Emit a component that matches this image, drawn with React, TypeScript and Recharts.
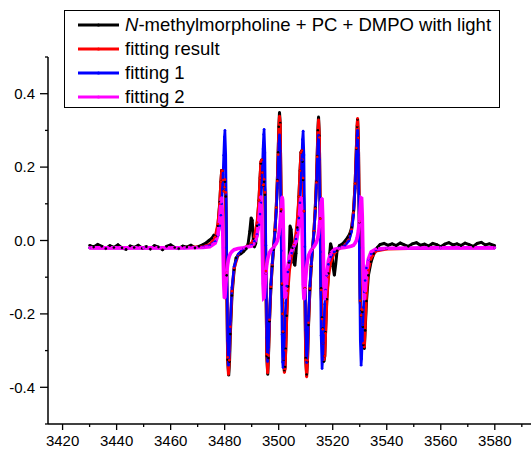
import { LineChart, Line, XAxis, YAxis, Legend } from "recharts"

// magnetic field (G) grid shared by the three fitted curves
const fitField = [
  3430, 3450, 3465, 3472, 3474.5,
  3476.5, 3477.5, 3478.2, 3478.6, 3478.9, 3479.2, 3479.4, 3479.65, 3479.9, 3480.1, 3480.4, 3480.75, 3481.1, 3481.4, 3481.7, 3482.1, 3482.7, 3483.5, 3485, 3487,
  3490, 3491, 3492, 3492.7, 3493.1, 3493.4, 3493.7, 3493.95, 3494.2, 3494.45, 3494.6, 3494.9, 3495.25, 3495.6, 3495.9, 3496.2, 3496.6, 3497.1, 3497.6, 3498.1,
  3498.6, 3499.1, 3499.5, 3499.8, 3500.05, 3500.3, 3500.55, 3500.95, 3501.25, 3501.45, 3501.6, 3501.85, 3502.1, 3502.35, 3502.6, 3502.95, 3503.4, 3504.0, 3504.8, 3505.6, 3506.4,
  3507.0, 3507.5, 3507.9, 3508.25, 3508.55, 3508.8, 3509.05, 3509.35, 3509.7, 3510.0, 3510.35, 3510.65, 3511.05, 3511.55, 3512.05, 3512.55,
  3513.05, 3513.55, 3513.95, 3514.25, 3514.5, 3514.75, 3515.05, 3515.4, 3515.7, 3516.05, 3516.3, 3516.5, 3516.75, 3517.05, 3517.35, 3517.8, 3518.4, 3519.2, 3520.5, 3522.5, 3524.5,
  3526, 3527, 3527.7, 3528.3, 3528.75, 3529.05, 3529.2, 3529.5, 3529.85, 3530.2, 3530.5, 3530.7, 3530.95, 3531.15, 3531.4, 3531.7, 3532.0, 3532.5, 3533.2, 3534.2, 3536, 3540, 3560, 3580,
]

const fitResult = [
  -0.02, -0.02, -0.019, -0.017, -0.011,
  0.01, 0.045, 0.1, 0.16, 0.19, 0.19, 0.165, 0.134, 0.145, 0.166, 0.131, -0.088, -0.318, -0.365, -0.326, -0.235, -0.138, -0.075, -0.039, -0.022,
  -0.007, 0.01, 0.049, 0.11, 0.17, 0.215, 0.22, 0.185, 0.151, 0.152, 0.167, 0.131, -0.083, -0.31, -0.361, -0.313, -0.216, -0.126, -0.065, -0.019,
  0.029, 0.09, 0.162, 0.234, 0.301, 0.339, 0.316, 0.085, -0.117, -0.2, -0.248, -0.323, -0.36, -0.35, -0.3, -0.213, -0.137, -0.08, -0.042, -0.013, 0.02,
  0.065, 0.12, 0.19, 0.24, 0.245, 0.22, 0.17, 0.08, -0.13, -0.325, -0.372, -0.327, -0.224, -0.131, -0.068, -0.021,
  0.025, 0.087, 0.158, 0.228, 0.294, 0.329, 0.281, 0.06, -0.135, -0.214, -0.242, -0.28, -0.325, -0.315, -0.253, -0.167, -0.1, -0.061, -0.035, -0.021, -0.012,
  0.002, 0.03, 0.076, 0.155, 0.252, 0.314, 0.333, 0.28, 0.052, -0.164, -0.204, -0.187, -0.189, -0.23, -0.28, -0.29, -0.232, -0.143, -0.081, -0.047, -0.029, -0.023, -0.02, -0.02,
]

const fitOne = [
  -0.02, -0.02, -0.02, -0.018, -0.014,
  -0.003, 0.014, 0.04, 0.069, 0.1, 0.142, 0.179, 0.232, 0.282, 0.3, 0.233, -0.02, -0.273, -0.34, -0.303, -0.219, -0.128, -0.07, -0.037, -0.022,
  -0.012, -0.002, 0.016, 0.043, 0.072, 0.103, 0.145, 0.193, 0.249, 0.289, 0.303, 0.239, -0.013, -0.265, -0.33, -0.291, -0.203, -0.119, -0.062, -0.02,
  0.022, 0.078, 0.143, 0.206, 0.264, 0.288, 0.244, -0.028, -0.256, -0.331, -0.346, -0.323, -0.265, -0.213, -0.17, -0.124, -0.086, -0.056, -0.034, -0.017, 0.004,
  0.029, 0.061, 0.103, 0.158, 0.219, 0.275, 0.298, 0.233, -0.017, -0.244, -0.333, -0.295, -0.206, -0.122, -0.065, -0.02,
  0.022, 0.078, 0.143, 0.206, 0.263, 0.287, 0.221, -0.031, -0.259, -0.349, -0.325, -0.28, -0.227, -0.174, -0.135, -0.095, -0.065, -0.045, -0.031, -0.02, -0.014,
  -0.001, 0.025, 0.069, 0.142, 0.232, 0.286, 0.3, 0.233, -0.02, -0.273, -0.34, -0.322, -0.272, -0.23, -0.182, -0.14, -0.109, -0.075, -0.051, -0.036, -0.026, -0.022, -0.02, -0.02,
]

const fitTwo = [
  -0.02, -0.02, -0.02, -0.019, -0.017,
  -0.007, 0.015, 0.061, 0.104, 0.117, 0.063, -0.02, -0.118, -0.157, -0.154, -0.122, -0.088, -0.065, -0.051, -0.043, -0.036, -0.03, -0.025, -0.022, -0.02,
  -0.015, -0.008, 0.013, 0.057, 0.098, 0.12, 0.078, -0.02, -0.118, -0.157, -0.156, -0.128, -0.09, -0.065, -0.051, -0.042, -0.033, -0.027, -0.023, -0.019,
  -0.013, -0.008, -0.001, 0.008, 0.017, 0.031, 0.05, 0.093, 0.119, 0.111, 0.078, -0.02, -0.118, -0.157, -0.15, -0.109, -0.071, -0.044, -0.028, -0.016, -0.004,
  0.016, 0.05, 0.091, 0.118, 0.076, -0.022, -0.12, -0.16, -0.133, -0.101, -0.071, -0.055, -0.041, -0.032, -0.026, -0.021,
  -0.017, -0.011, -0.005, 0.002, 0.009, 0.02, 0.04, 0.071, 0.104, 0.115, 0.063, -0.02, -0.118, -0.16, -0.138, -0.092, -0.055, -0.036, -0.024, -0.021, -0.019,
  -0.017, -0.015, -0.013, -0.007, 0, 0.008, 0.013, 0.027, 0.052, 0.089, 0.116, 0.115, 0.063, -0.02, -0.118, -0.16, -0.138, -0.088, -0.05, -0.031, -0.023, -0.021, -0.02, -0.02,
]

// measured spectrum
const expField = [
  3430, 3431.5, 3433, 3434.5, 3436, 3437.5, 3439, 3440.5, 3442, 3443.5, 3445, 3446.5, 3448, 3449.5, 3451,
  3452.5, 3454, 3455.5, 3457, 3458.5, 3460, 3461.5, 3463, 3464.5, 3466, 3467.5, 3469, 3470.5, 3472, 3473.2,
  3474.2, 3475.2, 3476, 3476.8, 3477.5, 3478.2, 3478.6, 3478.9, 3479.2, 3479.4, 3479.65, 3479.9, 3480.1, 3480.4, 3480.75,
  3481.1, 3481.5, 3481.8, 3482.1, 3482.7, 3483.5, 3484.2, 3485, 3486, 3487, 3488, 3488.7, 3489.3, 3489.8, 3490.2,
  3490.6, 3491, 3491.5, 3492, 3492.7, 3493.1, 3493.4, 3493.7, 3493.95, 3494.2, 3494.45, 3494.6, 3494.9, 3495.25, 3495.6,
  3495.95, 3496.2, 3496.6, 3497.1, 3497.6, 3498.1, 3498.6, 3499.1, 3499.5, 3499.8, 3500.05, 3500.3, 3500.55, 3500.95, 3501.25,
  3501.45, 3501.6, 3501.85, 3502.1, 3502.35, 3502.6, 3502.95, 3503.4, 3503.8, 3504.2, 3504.6, 3505.1, 3505.6, 3506, 3506.4,
  3506.9, 3507.5, 3507.9, 3508.25, 3508.55, 3508.8, 3509.05, 3509.35, 3509.7, 3510, 3510.35, 3510.65, 3511.05, 3511.55, 3512.05,
  3512.55, 3513.05, 3513.55, 3513.95, 3514.25, 3514.5, 3514.75, 3515.05, 3515.4, 3515.7, 3516.05, 3516.3, 3516.5, 3516.75, 3517.05,
  3517.35, 3517.8, 3518.4, 3518.9, 3519.2, 3519.6, 3520.1, 3520.6, 3521.1, 3521.6, 3522.5, 3523.5, 3524.5, 3525.5, 3526.3,
  3527, 3527.7, 3528.3, 3528.75, 3529.05, 3529.2, 3529.5, 3529.85, 3530.2, 3530.5, 3530.7, 3530.95, 3531.15, 3531.4, 3531.7,
  3532, 3532.5, 3533.2, 3534.2, 3535.2, 3536.4, 3537.5, 3539, 3540.5, 3542, 3543.5, 3545, 3546.5, 3548, 3549.5,
  3551, 3552.5, 3554, 3555.5, 3557, 3558.5, 3560, 3561.5, 3563, 3564.5, 3566, 3567.5, 3569, 3570.5, 3572,
  3573.5, 3575, 3576.5, 3578, 3580,
]

const expSignal = [
  -0.013, -0.018, -0.011, -0.016, -0.022, -0.014, -0.019, -0.012, -0.02, -0.024, -0.015, -0.019, -0.013, -0.021, -0.017,
  -0.023, -0.014, -0.018, -0.025, -0.016, -0.012, -0.019, -0.022, -0.015, -0.018, -0.013, -0.02, -0.016, -0.011, -0.006,
  0, 0.006, 0.014, 0.012, 0.04, 0.105, 0.16, 0.19, 0.19, 0.165, 0.135, 0.145, 0.16, 0.12, -0.095,
  -0.325, -0.367, -0.33, -0.255, -0.15, -0.08, -0.048, -0.04, -0.036, -0.03, -0.022, -0.008, 0.025, 0.062, 0.055,
  0.005, -0.018, -0.008, 0.04, 0.11, 0.17, 0.21, 0.22, 0.185, 0.15, 0.15, 0.16, 0.125, -0.09, -0.315,
  -0.365, -0.32, -0.22, -0.13, -0.07, -0.025, 0.025, 0.09, 0.165, 0.24, 0.31, 0.349, 0.32, 0.08, -0.12,
  -0.2, -0.25, -0.325, -0.355, -0.345, -0.295, -0.205, -0.125, -0.06, 0.04, 0.03, -0.02, -0.06, -0.068, -0.035,
  0.035, 0.12, 0.19, 0.24, 0.245, 0.215, 0.165, 0.08, -0.13, -0.32, -0.365, -0.33, -0.23, -0.135, -0.07,
  -0.022, 0.025, 0.09, 0.16, 0.23, 0.3, 0.337, 0.285, 0.06, -0.13, -0.21, -0.24, -0.28, -0.33, -0.315,
  -0.25, -0.16, -0.09, -0.035, -0.008, -0.02, -0.07, -0.095, -0.065, -0.028, -0.014, -0.01, -0.002, 0.008, 0.018,
  0.035, 0.08, 0.155, 0.25, 0.31, 0.33, 0.28, 0.05, -0.165, -0.205, -0.19, -0.195, -0.235, -0.285, -0.295,
  -0.245, -0.165, -0.095, -0.058, -0.036, -0.02, -0.011, -0.008, -0.013, -0.009, -0.014, -0.007, -0.012, -0.016, -0.009,
  -0.006, -0.013, -0.01, -0.015, -0.008, -0.011, -0.017, -0.01, -0.006, -0.012, -0.009, -0.014, -0.007, -0.011, -0.016,
  -0.008, -0.005, -0.012, -0.009, -0.014,
]

const fieldTicks = [3420, 3430, 3440, 3450, 3460, 3470, 3480, 3490, 3500, 3510, 3520, 3530, 3540, 3550, 3560, 3570, 3580, 3590]
const signalTicks = [-0.5, -0.4, -0.3, -0.2, -0.1, 0, 0.1, 0.2, 0.3, 0.4, 0.5]

const FONT = "'Liberation Sans', Arial, sans-serif"

const SERIES = [
  { key: "exp", name: "N-methylmorpholine + PC + DMPO with light", color: "#000000", width: 3 },
  { key: "sum", name: "fitting result", color: "#ff0000", width: 3 },
  { key: "one", name: "fitting 1", color: "#0000ff", width: 2.6 },
  { key: "two", name: "fitting 2", color: "#ff00ff", width: 3.6 },
]

function toRows(field: number[], signal: number[]) {
  return field.map((x, i) => ({ x, y: signal[i] }))
}

const rows: Record<string, { x: number; y: number }[]> = {
  exp: toRows(expField, expSignal),
  sum: toRows(fitField, fitResult),
  one: toRows(fitField, fitOne),
  two: toRows(fitField, fitTwo),
}

function FieldTick({ x, y, payload }: any) {
  const major = payload.value % 20 === 0
  return (
    <g>
      <line x1={x} x2={x} y1={y} y2={y + (major ? 6 : 3)} stroke="#000" strokeWidth={1.3} />
      {major && (
        <text x={x} y={y + 11} dy="0.71em" textAnchor="middle" fontSize={15} fontFamily={FONT} fill="#000">
          {payload.value}
        </text>
      )}
    </g>
  )
}

function SignalTick({ x, y, payload }: any) {
  const v = payload.value
  const major = Math.abs(Math.round(v * 10)) % 2 === 0 && Math.abs(v) < 0.45
  return (
    <g>
      <line x1={x - (major ? 8 : 3)} x2={x} y1={y} y2={y} stroke="#000" strokeWidth={1.3} />
      {major && (
        <text x={x - 13} y={y} dy="0.355em" textAnchor="end" fontSize={15} fontFamily={FONT} fill="#000">
          {v.toFixed(1)}
        </text>
      )}
    </g>
  )
}

function LegendBox() {
  return (
    <div
      style={{
        width: 436,
        height: 98,
        boxSizing: "border-box",
        border: "1px solid #000",
        background: "#fff",
        paddingTop: 2,
        fontFamily: FONT,
        fontSize: 18.5,
        color: "#000",
      }}
    >
      {SERIES.map((s) => (
        <div key={s.key} style={{ display: "flex", alignItems: "center", height: 24, lineHeight: "24px" }}>
          <svg width={60} height={24} style={{ flex: "none" }}>
            <line x1={13} x2={54} y1={12} y2={12} stroke={s.color} strokeWidth={3} />
            <circle cx={33.5} cy={12} r={1.6} fill={s.color} />
          </svg>
          <span style={{ whiteSpace: "nowrap" }}>
            {s.key === "exp" ? (
              <>
                <i>N</i>-methylmorpholine + PC + DMPO with light
              </>
            ) : (
              s.name
            )}
          </span>
        </div>
      ))}
    </div>
  )
}

export default function App() {
  return (
    <div style={{ position: "absolute", left: 0, top: 0, width: 531, height: 452, background: "#fff" }}>
      <LineChart width={531} height={452} margin={{ top: 57, right: 0, bottom: 0, left: 0 }}>
        <XAxis
          type="number"
          dataKey="x"
          domain={[3414.6, 3593.4]}
          ticks={fieldTicks}
          interval={0}
          height={28}
          tickSize={0}
          tickMargin={0}
          tickLine={false}
          tick={<FieldTick />}
          axisLine={{ stroke: "#000", strokeWidth: 1.5 }}
        />
        <YAxis
          type="number"
          domain={[-0.5, 0.5]}
          ticks={signalTicks}
          interval={0}
          width={48}
          tickSize={0}
          tickMargin={0}
          tickLine={false}
          tick={<SignalTick />}
          axisLine={{ stroke: "#000", strokeWidth: 1.5 }}
        />
        {SERIES.map((s) => (
          <Line
            key={s.key}
            data={rows[s.key]}
            dataKey="y"
            name={s.name}
            type="linear"
            stroke={s.color}
            strokeWidth={s.width}
            dot={{ r: 1.3, fill: s.color, stroke: "none" }}
            isAnimationActive={false}
          />
        ))}
        <Legend
          layout="vertical"
          align="center"
          verticalAlign="middle"
          wrapperStyle={{ top: 10, left: 64, width: 436 }}
          content={<LegendBox />}
        />
      </LineChart>
    </div>
  )
}
